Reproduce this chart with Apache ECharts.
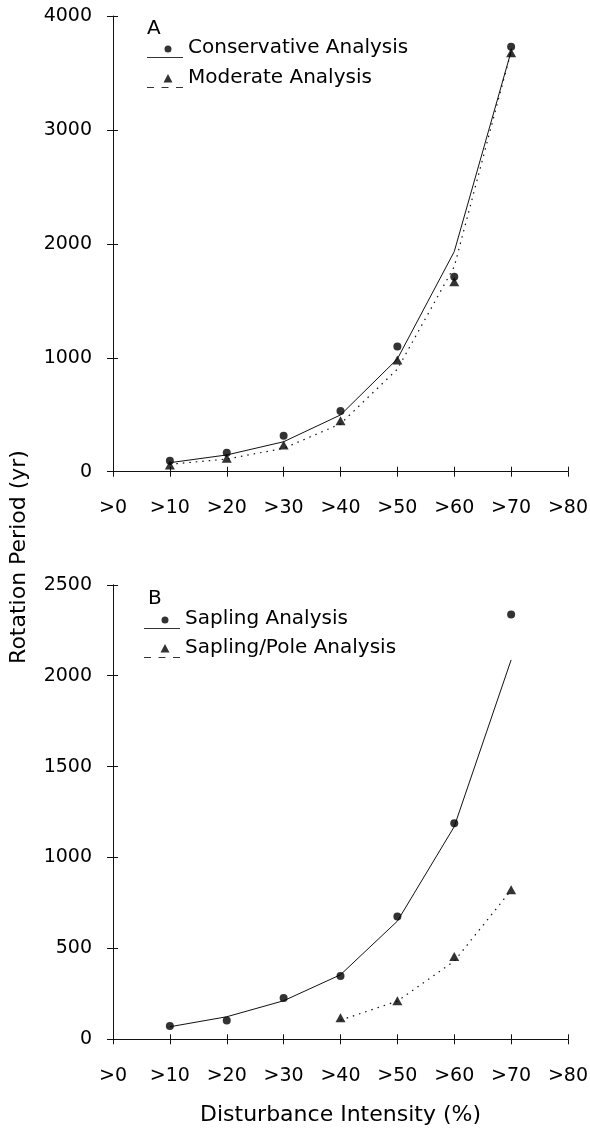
<!DOCTYPE html>
<html>
<head>
<meta charset="utf-8">
<style>
html,body{margin:0;padding:0;background:#fff;}
#chart{width:590px;height:1131px;}
</style>
<script src="https://cdn.jsdelivr.net/npm/echarts@6/dist/echarts.min.js"></script>
</head>
<body>
<div id="chart"></div>
<script>
// ---- data ----
const xTickLabels = ['>0', '>10', '>20', '>30', '>40', '>50', '>60', '>70', '>80'];
const xValues = [10, 20, 30, 40, 50, 60, 70];
// Panel A
const conservativePts = [97, 167, 316, 533, 1100, 1712, 3731];
const moderatePts = [59, 118, 234, 448, 980, 1668, 3678];
const conservativeFit = [79, 147, 263, 498, 990, 1932, 3690];
const moderateFit = [65, 111, 205, 420, 900, 1800, 3690];
// Panel B
const saplingPts = [73, 103, 227, 348, 675, 1189, 2337];
const saplingFit = [69, 124, 212, 355, 650, 1170, 2087];
const poleX = [40, 50, 60, 70];
const polePts = [119, 212, 455, 822];
const poleFit = [105, 210, 430, 820];
const yTicksA = { min: 0, max: 4000, interval: 1000 };
const yTicksB = { min: 0, max: 2500, interval: 500 };

const pairs = (xs, ys) => xs.map((x, i) => [x, ys[i]]);

const FONT = 'DejaVu Sans';
const INK = '#111';

const solidIcon = 'path://M0,0 M0,20H36V21H0Z M17.5,12A3.5,3.5 0 1 1 24.5,12A3.5,3.5 0 1 1 17.5,12Z';
const dashedIcon = 'path://M0,0 M0,20H7V21H0Z M14.5,20H21.5V21H14.5Z M29,20H36V21H29Z M21,7L25.5,15.5L16.5,15.5Z';

function xAxes(gridIndex, withName) {
  const base = {
    gridIndex, type: 'value', min: 0, max: 80, interval: 10, position: 'bottom',
    splitLine: { show: false }
  };
  return [
    Object.assign({}, base, {
      axisLine: { show: true, onZero: false, lineStyle: { color: INK, width: 1 } },
      axisTick: { show: true, inside: false, length: 5, lineStyle: { color: INK } },
      axisLabel: {
        show: true, margin: 27, color: '#000', fontFamily: FONT, fontSize: 19,
        formatter: v => xTickLabels[Math.round(v / 10)]
      },
      name: withName ? 'Disturbance Intensity (%)' : '',
      nameLocation: 'middle', nameGap: 65,
      nameTextStyle: { color: '#000', fontFamily: FONT, fontSize: 22 }
    }),
    Object.assign({}, base, {
      axisLine: { show: false },
      axisTick: { show: true, inside: true, length: 5, lineStyle: { color: INK } },
      axisLabel: { show: false }
    })
  ];
}
function yAxes(gridIndex, t) {
  const base = {
    gridIndex, type: 'value', min: t.min, max: t.max, interval: t.interval, position: 'left',
    splitLine: { show: false }
  };
  return [
    Object.assign({}, base, {
      axisLine: { show: true, onZero: false, lineStyle: { color: INK, width: 1 } },
      axisTick: { show: true, inside: false, length: 6, lineStyle: { color: INK } },
      axisLabel: { show: true, margin: 21, color: '#000', fontFamily: FONT, fontSize: 19,
        formatter: v => String(v) }
    }),
    Object.assign({}, base, {
      axisLine: { show: false },
      axisTick: { show: true, inside: true, length: 5, lineStyle: { color: INK } },
      axisLabel: { show: false }
    })
  ];
}

const legendText = { color: '#000', fontFamily: FONT, fontSize: 20 };

const option = {
  animation: false,
  backgroundColor: '#fff',
  grid: [
    { left: 113, width: 455, top: 16, height: 455.7, outerBoundsMode: 'none' },
    { left: 113, width: 455, top: 584.8, height: 454.5, outerBoundsMode: 'none' }
  ],
  xAxis: [].concat(xAxes(0, false), xAxes(1, true)),
  yAxis: [].concat(yAxes(0, yTicksA), yAxes(1, yTicksB)),
  legend: [
    {
      orient: 'vertical', left: 147, top: 37, padding: 0, itemGap: 9,
      itemWidth: 36, itemHeight: 21, selectedMode: false,
      textStyle: legendText,
      data: [
        { name: 'Conservative Analysis', icon: solidIcon },
        { name: 'Moderate Analysis', icon: dashedIcon }
      ]
    },
    {
      orient: 'vertical', left: 144, top: 608, padding: 0, itemGap: 8,
      itemWidth: 36, itemHeight: 21, selectedMode: false,
      textStyle: legendText,
      data: [
        { name: 'Sapling Analysis', icon: solidIcon },
        { name: 'Sapling/Pole Analysis', icon: dashedIcon }
      ]
    }
  ],
  graphic: [
    { type: 'text', x: 147, y: 29, style: { text: 'A', fontFamily: FONT, fontSize: 20, fill: '#000', textVerticalAlign: 'middle' } },
    { type: 'text', x: 148, y: 599, style: { text: 'B', fontFamily: FONT, fontSize: 20, fill: '#000', textVerticalAlign: 'middle' } },
    { type: 'text', x: 19, y: 557, rotation: Math.PI / 2,
      style: { text: 'Rotation Period (yr)', fontFamily: FONT, fontSize: 22, fill: '#000', textAlign: 'center', textVerticalAlign: 'middle' } }
  ],
  series: [
    { name: 'Conservative fit', type: 'line', xAxisIndex: 0, yAxisIndex: 0, data: pairs(xValues, conservativeFit),
      showSymbol: false, silent: true, lineStyle: { color: INK, width: 1 }, z: 2 },
    { name: 'Moderate fit', type: 'line', xAxisIndex: 0, yAxisIndex: 0, data: pairs(xValues, moderateFit),
      showSymbol: false, silent: true, lineStyle: { color: INK, width: 1.2, type: [1.5, 5] }, z: 2 },
    { name: 'Conservative Analysis', type: 'scatter', xAxisIndex: 0, yAxisIndex: 0, data: pairs(xValues, conservativePts),
      symbol: 'circle', symbolSize: 8, itemStyle: { color: '#000' }, z: 3 },
    { name: 'Moderate Analysis', type: 'scatter', xAxisIndex: 0, yAxisIndex: 0, data: pairs(xValues, moderatePts),
      symbol: 'triangle', symbolSize: [10, 9], itemStyle: { color: '#000' }, z: 3 },

    { name: 'Sapling fit', type: 'line', xAxisIndex: 2, yAxisIndex: 2, data: pairs(xValues, saplingFit),
      showSymbol: false, silent: true, lineStyle: { color: INK, width: 1 }, z: 2 },
    { name: 'Sapling/Pole fit', type: 'line', xAxisIndex: 2, yAxisIndex: 2, data: pairs(poleX, poleFit),
      showSymbol: false, silent: true, lineStyle: { color: INK, width: 1.2, type: [1.5, 5] }, z: 2 },
    { name: 'Sapling Analysis', type: 'scatter', xAxisIndex: 2, yAxisIndex: 2, data: pairs(xValues, saplingPts),
      symbol: 'circle', symbolSize: 8, itemStyle: { color: '#000' }, z: 3 },
    { name: 'Sapling/Pole Analysis', type: 'scatter', xAxisIndex: 2, yAxisIndex: 2, data: pairs(poleX, polePts),
      symbol: 'triangle', symbolSize: [10, 9], itemStyle: { color: '#000' }, z: 3 }
  ]
};

const chart = echarts.init(document.getElementById('chart'), null, { renderer: 'canvas' });
chart.setOption(option);
</script>
</body>
</html>
